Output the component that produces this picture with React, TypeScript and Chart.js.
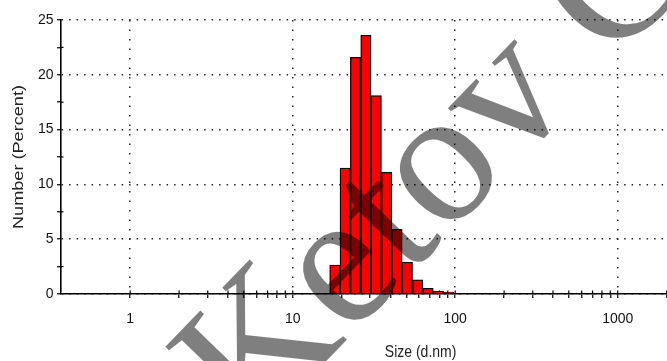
import React, { useEffect, useRef } from 'react';
import { Chart, registerables } from 'chart.js';

Chart.register(...registerables);

// Size classes (d.nm) and number distribution (%)
const sizes = [18.17, 21.04, 24.36, 28.21, 32.67, 37.84, 43.82, 50.75, 58.77, 68.06, 78.82, 91.28];
const numberPercent = [2.65, 11.5, 21.6, 23.6, 18.1, 11.1, 5.9, 2.9, 1.3, 0.52, 0.27, 0.15];

// Axis ticks
const xDecades = [1, 10, 100, 1000, 10000];
const xLabelled = [1, 10, 100, 1000];
const xMultipliers = [1, 2, 3, 4, 5, 6, 7, 8, 9];
const yTickValues = [0, 2.5, 5, 7.5, 10, 12.5, 15, 17.5, 20, 22.5, 25];
const yLabelStep = 5;

const xTitle = 'Size (d.nm)';
const yTitle = 'Number (Percent)';
const watermark = 'Ketov C';

const FONT = "'Liberation Sans', Arial, sans-serif";

const xTickValues: number[] = [];
xDecades.forEach((d, i) => {
  if (i === xDecades.length - 1) xTickValues.push(d);
  else xMultipliers.forEach((m) => xTickValues.push(Math.round(d * m)));
});
const isDecade = (v: number) => xDecades.includes(v);

const extrasPlugin = {
  id: 'extras',
  beforeDatasetsDraw(chart: any) {
    const { ctx, chartArea } = chart;
    const xs = chart.scales.x;
    const ys = chart.scales.y;
    ctx.save();
    ctx.strokeStyle = '#000';
    ctx.lineWidth = 1.2;
    xTickValues.forEach((v) => {
      const px = xs.getPixelForValue(v);
      ctx.beginPath();
      ctx.moveTo(px, chartArea.bottom);
      ctx.lineTo(px, chartArea.bottom - 3.5);
      ctx.stroke();
    });
    yTickValues.forEach((v) => {
      if (v % yLabelStep === 0) return;
      const py = ys.getPixelForValue(v);
      ctx.beginPath();
      ctx.moveTo(chartArea.left, py);
      ctx.lineTo(chartArea.left + 2.5, py);
      ctx.stroke();
    });
    ctx.restore();
  },
  afterDraw(chart: any) {
    const { ctx, chartArea } = chart;
    ctx.save();
    ctx.fillStyle = '#222';
    ctx.font = `14px ${FONT}`;
    ctx.textAlign = 'center';
    ctx.textBaseline = 'middle';
    ctx.save();
    ctx.translate((chartArea.left + chartArea.right) / 2, 352);
    ctx.scale(1, 1.2);
    ctx.fillText(xTitle, 0, 0);
    ctx.restore();
    ctx.save();
    ctx.translate(19, (chartArea.top + chartArea.bottom) / 2);
    ctx.rotate(-Math.PI / 2);
    ctx.scale(1.25, 1);
    ctx.font = `14.5px ${FONT}`;
    ctx.fillText(yTitle, 0, 0);
    ctx.restore();
    ctx.restore();

    ctx.save();
    ctx.translate(252, 438);
    ctx.rotate((-46 * Math.PI) / 180);
    ctx.font = "192px 'Liberation Serif', 'Times New Roman', serif";
    ctx.fillStyle = 'rgba(0,0,0,0.5)';
    ctx.textBaseline = 'alphabetic';
    ctx.textAlign = 'left';
    ctx.fillText(watermark, 0, 0);
    ctx.restore();
  },
};

export default function App() {
  const ref = useRef<HTMLCanvasElement | null>(null);

  useEffect(() => {
    if (!ref.current) return;
    const chart = new Chart(ref.current, {
      type: 'bar',
      data: {
        datasets: [
          {
            data: sizes.map((s, i) => ({ x: s, y: numberPercent[i] })),
            backgroundColor: '#ff0000',
            borderColor: '#000000',
            borderWidth: 1.3,
            barThickness: 'flex',
            barPercentage: 1,
            categoryPercentage: 1,
          },
        ],
      },
      options: {
        responsive: false,
        animation: false,
        layout: { padding: { top: 20, right: 19.8, left: 0, bottom: 0 } },
        plugins: { legend: { display: false }, tooltip: { enabled: false } },
        scales: {
          x: {
            type: 'logarithmic',
            min: 0.375,
            max: 10000,
            offset: false,
            afterFit(scale: any) {
              scale.height = 67;
              scale.paddingLeft = 0;
              scale.paddingRight = 0;
            },
            afterBuildTicks(scale: any) {
              scale.ticks = xTickValues.map((v) => ({ value: v }));
            },
            grid: {
              offset: false,
              color: (c: any) => (c.tick && isDecade(c.tick.value) ? '#222' : 'rgba(0,0,0,0)'),
              lineWidth: 1.5,
              tickColor: '#000',
              tickWidth: 1.2,
              tickLength: 4,
              drawTicks: true,
            },
            border: { display: true, color: '#000', width: 1.6, dash: [1.5, 8] },
            ticks: {
              autoSkip: false,
              maxRotation: 0,
              minRotation: 0,
              padding: 13,
              color: '#111',
              font: { family: FONT, size: 14 },
              callback: (v: any) => (xLabelled.includes(Number(v)) ? String(v) : ''),
            },
            title: { display: false },
          },
          y: {
            type: 'linear',
            min: 0,
            max: 25,
            afterFit(scale: any) {
              scale.width = 61;
            },
            afterBuildTicks(scale: any) {
              scale.ticks = yTickValues.map((v) => ({ value: v }));
            },
            grid: {
              color: (c: any) =>
                c.tick && c.tick.value % yLabelStep === 0 ? '#222' : 'rgba(0,0,0,0)',
              lineWidth: 1.5,
              tickColor: '#000',
              tickWidth: 1.2,
              tickLength: 4,
            },
            border: { display: true, color: '#000', width: 1.6, dash: [1.5, 6] },
            ticks: {
              padding: 3.5,
              color: '#111',
              font: { family: FONT, size: 14 },
              callback: (v: any) => (Number(v) % yLabelStep === 0 ? String(v) : ''),
            },
            title: { display: false },
          },
        },
      },
      plugins: [extrasPlugin],
    });
    return () => chart.destroy();
  }, []);

  return (
    <div
      style={{
        position: 'fixed',
        left: 0,
        top: 0,
        width: 667,
        height: 361,
        overflow: 'hidden',
        background: '#fff',
      }}
    >
      <canvas ref={ref} width={800} height={361} style={{ display: 'block', width: 800, height: 361 }} />
    </div>
  );
}
